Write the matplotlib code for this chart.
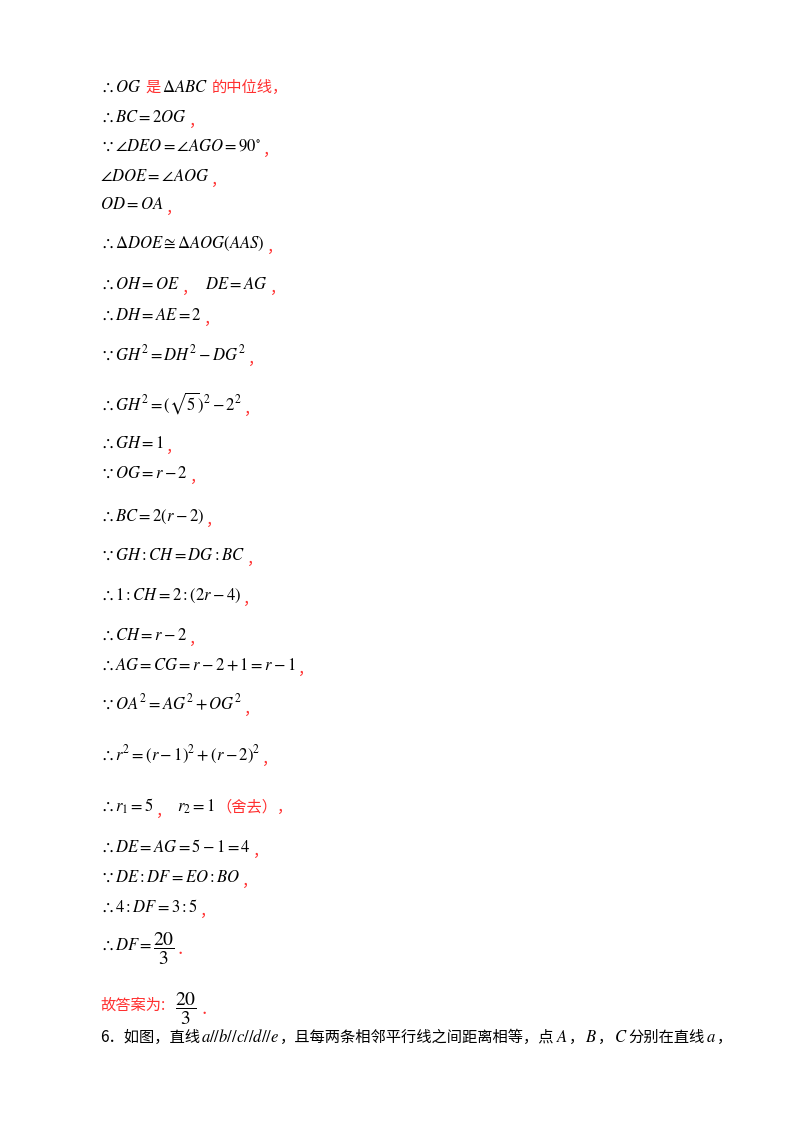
import matplotlib
matplotlib.use("Agg")
import matplotlib.pyplot as plt

plt.rcParams['mathtext.fontset'] = 'stix'
CJK = ['Noto Sans CJK SC', 'DejaVu Sans']
RED = '#ff3030'

# each line: (baseline y in px, segments); segment = (kind, text, gap_px)
# kind: 'm' = math black, 'f' = fraction math, 'r' = red CJK, 'k' = black CJK
lines = [
    (92, [('m', r'$\therefore OG$', 0), ('r', '是', 4), ('m', r'$\Delta ABC$', 2), ('r', '的中位线，', 4)]),
    (122, [('m', r'$\therefore BC=2OG$', 0), ('r', '，', 2)]),
    (151, [('m', r'$\because \angle DEO=\angle AGO=90^{\circ}$', 0), ('r', '，', 2)]),
    (181, [('m', r'$\angle DOE=\angle AOG$', 0), ('r', '，', 2)]),
    (209, [('m', r'$OD=OA$', 0), ('r', '，', 2)]),
    (248, [('m', r'$\therefore \Delta DOE\cong\Delta AOG(AAS)$', 0), ('r', '，', 2)]),
    (289, [('m', r'$\therefore OH=OE$', 0), ('r', '，', 2), ('m', r'$DE=AG$', 8), ('r', '，', 2)]),
    (320, [('m', r'$\therefore DH=AE=2$', 0), ('r', '，', 2)]),
    (360, [('m', r'$\because GH^{2}=DH^{2}-DG^{2}$', 0), ('r', '，', 2)]),
    (410, [('m', r'$\therefore GH^{2}=(\sqrt{5})^{2}-2^{2}$', 0), ('r', '，', 2)]),
    (448, [('m', r'$\therefore GH=1$', 0), ('r', '，', 2)]),
    (478, [('m', r'$\because OG=r-2$', 0), ('r', '，', 2)]),
    (521, [('m', r'$\therefore BC=2(r-2)$', 0), ('r', '，', 2)]),
    (560, [('m', r'$\because GH:CH=DG:BC$', 0), ('r', '，', 2)]),
    (600, [('m', r'$\therefore 1:CH=2:(2r-4)$', 0), ('r', '，', 2)]),
    (640, [('m', r'$\therefore CH=r-2$', 0), ('r', '，', 2)]),
    (670, [('m', r'$\therefore AG=CG=r-2+1=r-1$', 0), ('r', '，', 2)]),
    (710, [('m', r'$\because OA^{2}=AG^{2}+OG^{2}$', 0), ('r', '，', 2)]),
    (760, [('m', r'$\therefore r^{2}=(r-1)^{2}+(r-2)^{2}$', 0), ('r', '，', 2)]),
    (812, [('m', r'$\therefore r_{1}=5$', 0), ('r', '，', 2), ('m', r'$r_{2}=1$', 6), ('r', '（舍去），', 2)]),
    (852, [('m', r'$\therefore DE=AG=5-1=4$', 0), ('r', '，', 2)]),
    (882, [('m', r'$\because DE:DF=EO:BO$', 0), ('r', '，', 2)]),
    (912, [('m', r'$\therefore 4:DF=3:5$', 0), ('r', '，', 2)]),
    (950, [('m', r'$\therefore DF=$', 0), ('f', r'$\dfrac{20}{3}$', 1), ('r', '．', 2)]),
    (1010, [('r', '故答案为:', 0), ('f', r'$\dfrac{20}{3}$', 10), ('r', '．', 4)]),
    (1042, [('k', '6．如图，直线', 0), ('m', r'$a//b//c//d//e$', 1), ('k', '，且每两条相邻平行线之间距离相等，点', 1),
            ('m', r'$A$', 1), ('k', '，', 1), ('m', r'$B$', 1), ('k', '，', 1), ('m', r'$C$', 1),
            ('k', '分别在直线', 1), ('m', r'$a$', 1), ('k', '，', 1)]),
]

W, H = 800, 1132
fig = plt.figure(figsize=(8, 11.32), dpi=100)
fig.patch.set_facecolor('white')
ax = fig.add_axes([0, 0, 1, 1])
ax.set_xlim(0, W); ax.set_ylim(H, 0); ax.axis('off')
fig.canvas.draw()
renderer = fig.canvas.get_renderer()

x0 = 100
for y, segs in lines:
    x = x0
    for kind, txt, gap in segs:
        x += gap
        if kind == 'm':
            t = ax.text(x, y, txt, fontsize=12, color='black', va='baseline', ha='left')
        elif kind == 'f':
            t = ax.text(x, y + 4, txt, fontsize=14, color='black', va='baseline', ha='left')
        else:
            col = RED if kind == 'r' else 'black'
            dy = 4 if (kind == 'r' and txt in ('，', '．')) else 0
            t = ax.text(x, y + dy, txt, fontsize=11, color=col, va='baseline', ha='left', family=CJK)
        bb = t.get_window_extent(renderer)
        x += bb.width

fig.savefig('out.png', dpi=100, facecolor='white')
